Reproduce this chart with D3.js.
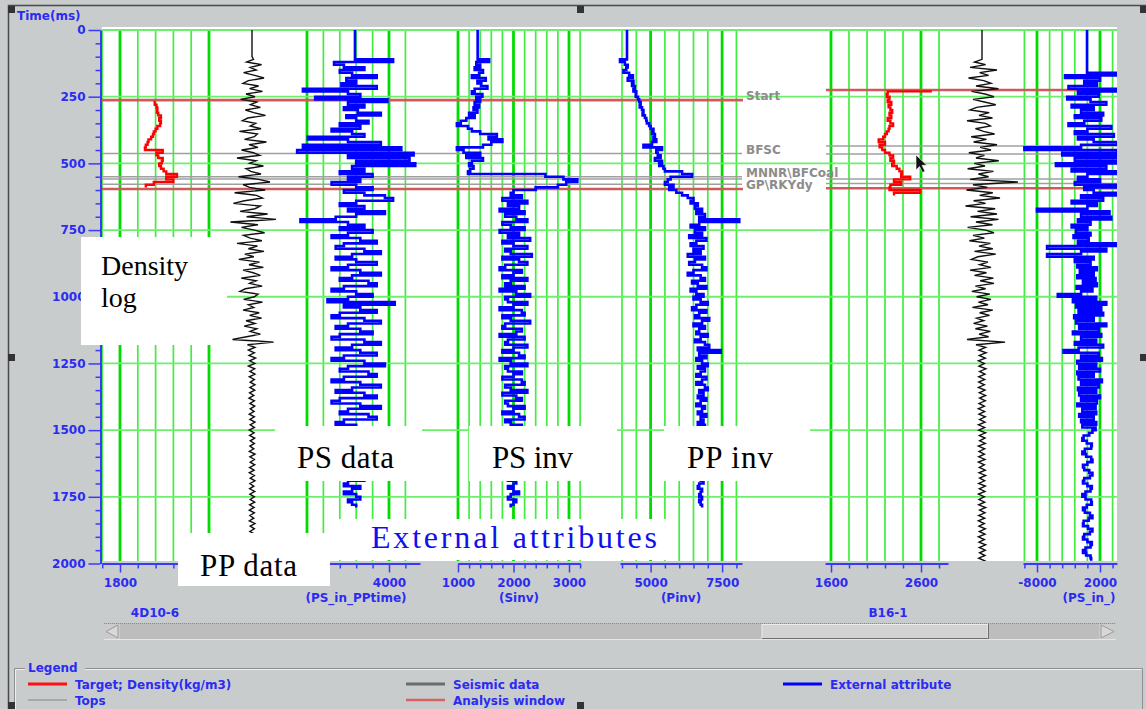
<!DOCTYPE html>
<html>
<head>
<meta charset="utf-8">
<script src="https://cdnjs.cloudflare.com/ajax/libs/d3/7.8.5/d3.min.js"></script>
<style>
  body { margin: 0; background: #c9cccd; }
  svg text { font-family: "DejaVu Sans", sans-serif; font-weight: bold; }
  .note { font-family: "Liberation Serif", "Times New Roman", serif; font-weight: normal; }
</style>
</head>
<body>
<svg id="chart" width="1146" height="709"></svg>
<script>
// ---------- data ----------
const timeLabels = [0, 250, 500, 750, 1000, 1250, 1500, 1750, 2000];
const sampleStep = 10; // ms between samples

// well 4D10-6
const w1DensityStart = 270;
const w1Density = [
  2000,1995,2005,2010,2008,2015,2030,2020,2030,2025,
  2010,2000,1990,1985,1975,1960,1955,1945,1940,2040,
  2005,2015,2040,2035,2020,2030,2045,2060,2120,2060,
  2100,1990,1945];
const w1Seismic = [
  0,0,0,0,0,0,0,0,0,0,0,
  5,-18,32,-6,14,-28,9,40,-12,-30,22,-8,35,-20,10,
  -38,16,-5,28,-22,6,45,-14,-32,12,-6,30,-42,18,8,
  -25,48,-10,20,-35,5,26,-50,14,-8,38,-20,-4,30,-45,
  22,60,-30,-8,44,-58,15,35,-25,-62,28,10,-40,52,-18,
  80,-72,20,-35,8,42,-28,-6,33,-50,18,-12,40,-24,6,
  -44,25,-10,38,-30,4,28,-36,14,-8,34,-22,-40,20,8,
  -28,35,-12,6,-30,24,-8,32,-20,10,-26,16,-6,28,-18,
  -65,72,-15,10,-12,8,-10,12,-8,10,-12,9,-7,10,-9,
  8,-6,10,-7,9,-8,6,-10,8,-7,
  9,-6,7,-9,8,-7,10,-6,8,-9,
  7,-8,9,-6,8,-7,6,-9,10,-7,
  8,-6,9,-8,7,-9,8,-6,10,-7,
  6,-8,9,-7,8,-6,9,-8,7,-9,
  8,-7,6,-9,10,-6,8,-7,9,-8,
  7,-6,9,-8,6,-7,8,-9,7,-6];
const w1PsData = [
  3585,3585,3585,3585,3585,3585,3585,3585,3585,3585,3585,3585,
  4050,3330,3450,3700,3400,3550,3850,3480,3600,3420,3850,2950,3500,3650,
  3100,3980,3500,3700,3450,3620,3900,3480,3600,3750,3400,3650,3300,3550,3700,
  3010,3500,3900,2950,4150,2880,4300,3500,4250,3600,4320,3550,3700,3400,3800,
  3500,3650,3300,3600,3800,3450,3700,3950,4050,3600,3400,3700,3500,3950,3600,
  3350,2920,3500,3700,3400,3800,3500,3300,3650,3850,3450,3350,3700,3900,3550,
  3350,3600,3850,3500,3300,3650,3900,3550,3400,3750,3850,3450,3300,3600,3800,
  3500,3250,4070,3450,3650,3850,3400,3300,3700,3900,3500,3350,3650,3800,3400,
  3300,3700,3900,3550,3350,3650,3850,3450,3300,3700,3950,3500,3400,3750,3850,
  3450,3300,3650,3900,3550,3350,3700,3850,3400,3300,3650,3900,3500,3400,3750,
  3850,3450,3350,3600,3800,3500,3400,3700,3850,3450,3350,3650,3800,3500,3400,
  3600,3750,3450,3500,3650,3550,3450,3600,3700,3500,3450,3650,3550,3450,3600,
  3650,3500,3550,3600];
const w1PsInv = [
  1354,1354,1354,1354,1354,1354,1354,1354,1354,1354,1354,1354,
  1560,1330,1400,1300,1450,1380,1250,1500,1350,1420,1530,1300,1250,1440,
  1330,1400,1300,1380,1280,1350,1200,1300,1150,1050,980,1180,1250,1400,1700,
  1550,1800,1600,1450,980,1100,1400,1150,1450,1250,1200,1280,1220,1180,2575,
  2900,3150,2950,2800,2400,2000,1950,2150,1800,2250,1900,2100,1750,2200,1850,
  2050,2250,1800,1950,2200,1750,2100,1900,2300,1800,2000,2250,1850,1950,2330,
  1800,2100,2250,1850,1750,2150,2000,1800,2250,1950,1850,2200,1750,2050,2300,
  1850,1900,2250,2000,1750,2150,2200,1800,1950,2300,1850,1800,2150,2050,1750,
  2200,1900,1850,2250,2000,1800,2100,2200,1750,1950,2250,1850,1900,2150,2000,
  1800,2150,2200,1850,1950,2250,1800,2050,2150,1850,1900,2200,2000,1800,2100,
  2200,1850,1950,2150,2000,1850,2100,2050,1900,1950,2100,2000,1900,2050,2000,
  1900,2050,2100,1950,1900,2000,2100,1950,1900,2050,2000,1900,2000,2100,1950,
  1900,2050,2000,1950];
const w1PpInv = [
  4175,4175,4175,4175,4175,4175,4175,4175,4175,4175,4175,4175,
  3930,4100,4200,4150,4050,4250,4380,4200,4400,4350,4450,4400,4500,4480,
  4560,4600,4650,4620,4700,4750,4720,4800,4850,4870,4950,5000,5100,5050,5150,
  5100,5200,5050,4750,5400,5200,5250,5350,5150,5400,5300,5450,5500,6100,6450,
  5700,5600,5500,5800,5650,5900,6100,6300,6500,6400,6650,6550,6800,6600,6900,
  6700,8100,6700,6400,6900,6550,6800,6350,6950,6600,6400,6850,6500,6750,6300,
  6900,6550,6350,6800,6950,6500,6300,6750,6900,6450,6650,6950,6400,6600,6850,
  6500,6750,7000,6600,6450,6950,6700,6550,7050,6800,6500,6900,6700,6600,7000,
  6750,6550,6900,7050,6650,7450,6700,6950,6600,6800,7000,6650,6900,6750,6600,
  6950,6800,6600,6900,7000,6700,6850,6650,6950,6750,6600,6900,6800,6650,6950,
  6750,6850,6650,6900,6800,6700,6850,6750,6650,6900,6800,6700,6850,6750,6800,
  6700,6800,6900,6750,6650,6800,6850,6700,6750,6850,6700,6650,6800,6750,6700,
  6800,6700,6750,6800];

// well B16-1
const w2DensityStart = 230;
const w2Density = [
  2720,2230,2220,2250,2230,2270,2240,2260,2280,2250,
  2270,2230,2260,2290,2250,2240,2220,2200,2180,2130,
  2200,2140,2170,2200,2250,2290,2260,2300,2280,2330,
  2360,2390,2380,2480,2300,2380,2260,2250,2590,2300];
const w2Seismic = [
  0,0,0,0,0,0,0,0,0,0,0,0,
  -25,12,-40,50,-8,22,-45,6,30,-20,55,-35,10,40,
  -30,8,46,-18,-40,24,-10,35,-50,12,28,-22,5,42,-36,
  15,-28,50,-6,30,-44,8,-20,56,-26,10,-48,38,-12,22,
  -40,120,-30,18,-52,36,-8,60,-28,12,-55,44,-15,50,-38,
  55,-20,35,-48,12,40,-30,8,-42,28,-10,36,-25,46,-14,
  -35,20,-8,30,-40,15,-25,38,-6,40,-22,12,-34,26,-18,
  30,-12,20,-32,36,-8,25,-18,6,-28,18,-22,28,-10,22,
  -50,77,-20,12,-10,14,-9,11,-12,8,-10,13,-8,10,-11,
  9,-11,8,-12,10,-9,12,-8,11,-10,
  8,-12,9,-10,11,-8,10,-12,9,-11,
  12,-9,10,-8,11,-12,9,-10,8,-11,
  10,-12,8,-9,11,-10,12,-8,9,-11,
  11,-9,10,-12,8,-10,9,-11,12,-8,
  10,-11,9,-12,8,-10,11,-9,10,-12,
  8,-10,12,-9,11,-8,10,-11,9,-10];
const w2PsIn = [
  -60,-60,-60,-60,-60,-60,-60,-60,-60,-60,-60,-60,-60,-60,-60,-60,-60,
  4700,-3560,2000,-500,1500,-3000,4500,-1500,1800,-3200,500,3000,-2500,1000,
  -1000,2500,-2000,2200,-500,-3000,3800,0,-2000,4200,-1500,1000,4700,-1000,-10000,
  4700,-4000,4500,-2000,4700,-5000,3000,-2500,4700,0,-1500,2000,-2000,4700,-500,
  1000,4700,-1000,2500,-2500,1500,0,-8000,3500,-1000,3800,-1500,500,-2500,0,
  -1800,500,-2200,200,-1500,4700,-6400,3000,-1000,-6400,1000,-2000,500,-1600,1500,
  -1200,1000,-1600,1300,-700,1500,-1700,800,-1000,-4700,1400,-2300,3000,-1800,2200,
  -1400,2500,-2100,1000,-1800,3000,-1300,1800,-2300,2200,-1000,1400,-2000,2500,-1400,
  -3800,1800,-1000,2300,-1600,1400,-1300,2000,-1600,1000,-1400,2300,-1000,1800,-1500,
  1400,-1300,2000,-1000,1500,-1600,1300,-800,1400,-1300,1000,-1000,1400,-800,1300,
  800,300,-600,-800,-100,700,600,-400,-800,-200,600,800,0,-700,-500,
  300,800,400,-500,-700,0,700,500,-300,-800,-300,600,700,-100,-700,
  -400,400,800,200,-600,-700,100,800,400,-500,-700,0,700,500,-300,
  -700,-200,500,600];

// formation tops and analysis windows (ms)
const w1TopNames = ["Start", "BFSC", "MNNR\\BFCoal", "", "", "GP\\RKYdy"];
const w1TopTimes = [263, 463, 550, 559, 578, 596];
const w2TopTimes = [225, 435, 465, 559, 575];
const w1Window = [263, 596];
const w2Window = [225, 593];

// track tick values and labelled values
const w1DensTicks = [1700, 1800, 1900, 2000, 2100, 2200, 2300];
const w1DensLabels = [1800, 2300];
const w1PsTicks = [3000, 3200, 3400, 3600, 3800, 4000, 4200];
const w1PsLabels = [3000, 4000];
const w1SinvTicks = [1000, 1200, 1400, 1600, 1800, 2000, 2200, 2400, 2600, 2800, 3000, 3200];
const w1SinvLabels = [1000, 2000, 3000];
const w1PinvTicks = [4000, 4500, 5000, 5500, 6000, 6500, 7000, 7500, 8000];
const w1PinvLabels = [5000, 7500];
const w2DensTicks = [1600, 1800, 2000, 2200, 2400, 2600, 2800];
const w2DensLabels = [1600, 2600];
const w2PsTicks = [-10000, -8000, -6000, -4000, -2000, 0, 2000, 4000];
const w2PsLabels = [-8000, 2000];

const legendNames = ["Target; Density(kg/m3)", "Tops", "Seismic data", "Analysis window", "External attribute"];

// ---------- drawing ----------
const svg = d3.select('#chart');
const blueTxt = '#2b2bf2';
const y = d3.scaleLinear().domain([0, 2000]).range([30, 563.5]);
const lin = (d, r) => d3.scaleLinear().domain(d).range(r);

// "covered" = tick labels hidden under the pasted "PP data" note
const tracks = [
  {x: lin([1800, 2300], [120, 209]), ticks: w1DensTicks, labels: w1DensLabels, axis: [102, 227], covered: [2300]},
  {x: lin([3000, 4000], [307, 389]), ticks: w1PsTicks, labels: w1PsLabels, axis: [290, 420], covered: [3000], name: ['(PS_in_PPtime)', 356]},
  {x: lin([1000, 2000], [458, 513.5]), ticks: w1SinvTicks, labels: w1SinvLabels, axis: [458, 580], name: ['(Sinv)', 519]},
  {x: lin([4000, 5000], [622, 650.6]), ticks: w1PinvTicks, labels: w1PinvLabels, axis: [620, 742], name: ['(Pinv)', 681]},
  {x: lin([1600, 2600], [831, 921]), ticks: w2DensTicks, labels: w2DensLabels, axis: [825, 948]},
  {x: lin([-8000, 2000], [1037, 1100]), ticks: w2PsTicks, labels: w2PsLabels, axis: [1023, 1117], name: ['(PS_in_)', 1089]}
];
const seis1 = lin([-100, 100], [222, 282]);
const seis2 = lin([-100, 100], [952, 1012]);

// plot background
svg.append('rect').attr('x', 102).attr('y', 27).attr('width', 1015).attr('height', 534).attr('fill', '#fff');

const clip = svg.append('defs').append('clipPath').attr('id', 'plotclip');
clip.append('rect').attr('x', 102).attr('y', 27).attr('width', 1015).attr('height', 534);
const plot = svg.append('g').attr('clip-path', 'url(#plotclip)');

// green grid
tracks.forEach(tr => {
  const a0 = tr.axis[0] - 1, a1 = tr.axis[1] + 1;
  plot.selectAll(null).data(tr.ticks.filter(v => tr.x(v) >= a0 && tr.x(v) <= a1)).enter().append('line')
    .attr('x1', v => tr.x(v)).attr('x2', v => tr.x(v))
    .attr('y1', y(0)).attr('y2', 563)
    .attr('stroke', v => tr.labels.includes(v) ? '#00dc00' : '#40ee40')
    .attr('stroke-width', v => tr.labels.includes(v) ? 2.8 : 1.7);
});
plot.selectAll(null).data(timeLabels.filter(t => t < 2000)).enter().append('line')
  .attr('x1', 102).attr('x2', 1117).attr('y1', d => y(d)).attr('y2', d => y(d))
  .attr('stroke', '#6cf06c').attr('stroke-width', 1.8);

// tops
plot.selectAll(null).data(w1TopTimes).enter().append('line')
  .attr('x1', 102).attr('x2', 742).attr('y1', d => y(d)).attr('y2', d => y(d))
  .attr('stroke', '#a0a0a0').attr('stroke-width', 1.5);
plot.selectAll(null).data(w2TopTimes).enter().append('line')
  .attr('x1', 826).attr('x2', 1117).attr('y1', d => y(d)).attr('y2', d => y(d))
  .attr('stroke', '#a0a0a0').attr('stroke-width', 1.5);
svg.selectAll(null).data(w1TopNames.map((n, i) => [n, w1TopTimes[i]]).filter(d => d[0])).enter().append('text')
  .attr('x', 746).attr('y', d => y(d[1]))
  .attr('font-size', 12).attr('fill', '#8c8c8c').text(d => d[0]);

// analysis windows
plot.selectAll(null).data(w1Window).enter().append('line')
  .attr('x1', 102).attr('x2', 743).attr('y1', d => y(d)).attr('y2', d => y(d))
  .attr('stroke', '#cf5a5a').attr('stroke-width', 2.6);
plot.selectAll(null).data(w2Window).enter().append('line')
  .attr('x1', 826).attr('x2', 1117).attr('y1', d => y(d)).attr('y2', d => y(d))
  .attr('stroke', '#cf5a5a').attr('stroke-width', 2.6);

// traces
function trace(values, t0, xs, color, width, curve) {
  const line = d3.line().x(d => xs(d)).y((d, i) => y(t0 + i * sampleStep)).curve(curve);
  plot.append('path').datum(values).attr('d', line)
    .attr('fill', 'none').attr('stroke', color).attr('stroke-width', width)
    .attr('stroke-linejoin', 'miter');
}
trace(w1Seismic, 0, seis1, '#111', 1.4, d3.curveLinear);
trace(w2Seismic, 0, seis2, '#111', 1.4, d3.curveLinear);
trace(w1PsData, 0, tracks[1].x, '#0000ff', 2.6, d3.curveStepAfter);
trace(w1PsInv, 0, tracks[2].x, '#0000ff', 2.6, d3.curveStepAfter);
trace(w1PpInv, 0, tracks[3].x, '#0000ff', 2.6, d3.curveStepAfter);
trace(w2PsIn, 0, tracks[5].x, '#0000ff', 2.6, d3.curveStepAfter);
trace(w1Density, w1DensityStart, tracks[0].x, '#ff0000', 2.4, d3.curveStepAfter);
trace(w2Density, w2DensityStart, tracks[4].x, '#ff0000', 2.4, d3.curveStepAfter);

// time axis
const yAxis = d3.axisLeft(y).tickValues(d3.range(0, 2001, 50)).tickSize(12).tickSizeOuter(0)
  .tickFormat(v => timeLabels.includes(v) ? v : '');
const gy = svg.append('g').attr('transform', 'translate(100.5,0)').call(yAxis);
gy.select('.domain').attr('stroke', '#3a3aff').attr('stroke-width', 2);
gy.selectAll('.tick line').attr('stroke', '#3a3aff').attr('stroke-width', 1.5)
  .attr('x2', v => timeLabels.includes(v) ? -12 : -5);
gy.selectAll('.tick text').attr('x', -15).attr('fill', blueTxt).attr('font-size', 12)
  .attr('font-family', 'DejaVu Sans').attr('font-weight', 'bold');
svg.append('text').attr('x', 17).attr('y', 20).attr('font-size', 12).attr('fill', blueTxt).text('Time(ms)');

// track axes
tracks.forEach(tr => {
  const [a0, a1] = tr.axis;
  const s = tr.x.copy().domain([tr.x.invert(a0), tr.x.invert(a1)]).range([a0, a1]);
  const tv = tr.ticks.filter(v => s(v) >= a0 - 1 && s(v) <= a1 + 1);
  const hidden = tr.covered || [];
  const ax = d3.axisBottom(s).tickValues(tv).tickSize(9).tickSizeOuter(0)
    .tickFormat(v => tr.labels.includes(v) && !hidden.includes(v) ? String(v) : '');
  const g = svg.append('g').attr('transform', 'translate(0,563.5)').call(ax);
  g.select('.domain').attr('stroke', '#3a3aff').attr('stroke-width', 2);
  g.selectAll('.tick line').attr('stroke', '#3a3aff').attr('stroke-width', 1.5)
    .attr('y2', v => tr.labels.includes(v) ? 9 : 5);
  g.selectAll('.tick text').attr('y', 15).attr('fill', blueTxt).attr('font-size', 12)
    .attr('font-family', 'DejaVu Sans').attr('font-weight', 'bold');
  if (tr.name) {
    svg.append('text').attr('x', tr.name[1]).attr('y', 602).attr('text-anchor', 'middle')
      .attr('font-size', 12).attr('fill', blueTxt).text(tr.name[0]);
  }
});
svg.append('text').attr('x', 155).attr('y', 617).attr('text-anchor', 'middle').attr('font-size', 12).attr('fill', blueTxt).text('4D10-6');
svg.append('text').attr('x', 888).attr('y', 617).attr('text-anchor', 'middle').attr('font-size', 12).attr('fill', blueTxt).text('B16-1');

// scrollbar
const sb = svg.append('g');
sb.append('rect').attr('x', 104).attr('y', 623).attr('width', 1012).attr('height', 16).attr('fill', '#bdbdbd');
sb.append('line').attr('x1', 104).attr('x2', 1116).attr('y1', 623.5).attr('y2', 623.5).attr('stroke', '#8a8a8a').attr('stroke-dasharray', '1,1');
sb.append('line').attr('x1', 104).attr('x2', 1116).attr('y1', 639.5).attr('y2', 639.5).attr('stroke', '#e6e6e6');
sb.append('rect').attr('x', 104).attr('y', 624).attr('width', 16).attr('height', 15).attr('fill', '#cbcbcb');
sb.append('path').attr('d', 'M106,631.5 L118,625 L118,638 Z').attr('fill', '#d8d8d8').attr('stroke', '#9a9a9a');
sb.append('rect').attr('x', 1099).attr('y', 624).attr('width', 17).attr('height', 15).attr('fill', '#cbcbcb');
sb.append('path').attr('d', 'M1114,631.5 L1101,625 L1101,638 Z').attr('fill', '#d8d8d8').attr('stroke', '#9a9a9a');
sb.append('rect').attr('x', 762).attr('y', 624.5).attr('width', 226).attr('height', 14).attr('fill', '#d3d3d3').attr('stroke', '#ededed');
sb.append('path').attr('d', 'M988.5,624 V639 M762,638.5 H989').attr('stroke', '#6f6f6f').attr('fill', 'none');

// legend group box
svg.append('path').attr('d', 'M14.5,709 V668.5 H1142.5 V709').attr('fill', 'none').attr('stroke', '#8e8e8e');
svg.append('path').attr('d', 'M15.5,709 V669.5 H1141.5').attr('fill', 'none').attr('stroke', '#efefef');
svg.append('rect').attr('x', 25).attr('y', 661).attr('width', 60).attr('height', 14).attr('fill', '#c9cccd');
svg.append('text').attr('x', 28).attr('y', 672).attr('font-size', 12).attr('fill', blueTxt).text('Legend');
const legendLayout = [
  {x: 28, y: 684, c: '#ff1010', w: 3},
  {x: 28, y: 700, c: '#a8a8a8', w: 2},
  {x: 406, y: 684, c: '#6c6c6c', w: 3},
  {x: 406, y: 700, c: '#d86060', w: 2.4},
  {x: 783, y: 684, c: '#0000ff', w: 3}
];
legendNames.forEach((n, i) => {
  const L = legendLayout[i];
  svg.append('line').attr('x1', L.x).attr('x2', L.x + 39).attr('y1', L.y).attr('y2', L.y)
    .attr('stroke', L.c).attr('stroke-width', L.w);
  svg.append('text').attr('x', L.x + 47).attr('y', L.y + 4.5).attr('font-size', 12)
    .attr('fill', blueTxt).text(n);
});

// window frame and selection handles
svg.append('path').attr('d', 'M8.5,709 V5.5 H1146').attr('fill', 'none').attr('stroke', '#4a4a4a').attr('stroke-width', 1.5);
[[8, 6], [577, 6], [1140, 6], [8, 354], [1140, 354], [8, 702], [577, 702]].forEach(p => {
  svg.append('rect').attr('x', p[0]).attr('y', p[1]).attr('width', 7).attr('height', 7).attr('fill', '#333');
});

// annotation boxes pasted on top of the chart
const notes = [
  {x: 81, y: 237, w: 146, h: 108, lines: [['Density', 101, 275], ['log', 101, 307]], size: 28, color: '#000'},
  {x: 178, y: 533, w: 152, h: 53, lines: [['PP data', 200, 576]], size: 31, color: '#000', len: 97},
  {x: 275, y: 426, w: 147, h: 55, lines: [['PS data', 297, 468]], size: 31, color: '#000', len: 97},
  {x: 469, y: 426, w: 148, h: 55, lines: [['PS inv', 492, 468]], size: 31, color: '#000', len: 81},
  {x: 664, y: 426, w: 146, h: 55, lines: [['PP inv', 687, 468]], size: 31, color: '#000', len: 86},
  {x: 338, y: 519, w: 328, h: 41, lines: [['External attributes', 371, 548]], size: 32, color: '#1010ee', len: 286}
];
notes.forEach(n => {
  svg.append('rect').attr('x', n.x).attr('y', n.y).attr('width', n.w).attr('height', n.h).attr('fill', '#fff');
  n.lines.forEach(l => {
    const t = svg.append('text').attr('class', 'note').attr('x', l[1]).attr('y', l[2])
      .attr('font-size', n.size).attr('fill', n.color).text(l[0]);
    if (n.len) t.attr('textLength', n.len).attr('lengthAdjust', 'spacing');
  });
});

// mouse pointer
svg.append('path').attr('d', 'M916,155 l0,15 l3.5,-3.5 l3,6 l2.5,-1.2 l-3,-6 l4.8,0 Z')
  .attr('fill', '#111').attr('stroke', '#fff').attr('stroke-width', 0.6);
</script>
</body>
</html>
